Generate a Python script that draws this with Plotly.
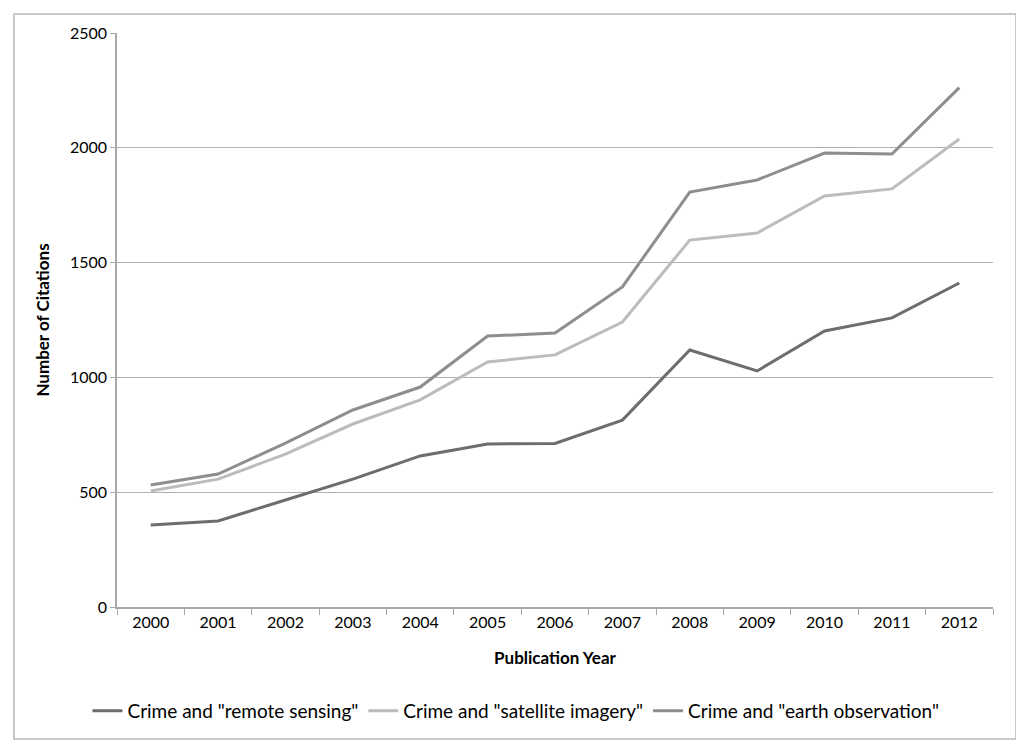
import plotly.graph_objects as go

years = ["2000", "2001", "2002", "2003", "2004", "2005", "2006",
         "2007", "2008", "2009", "2010", "2011", "2012"]
remote_sensing = [357, 375, 466, 557, 658, 710, 712, 814, 1119, 1028, 1202, 1259, 1411]
satellite_imagery = [505, 557, 666, 797, 902, 1067, 1098, 1241, 1598, 1629, 1790, 1821, 2038]
earth_observation = [531, 579, 714, 858, 958, 1180, 1193, 1394, 1807, 1860, 1977, 1973, 2262]

series_names = ['Crime and "remote sensing"', 'Crime and "satellite imagery"',
                'Crime and "earth observation"']
series_colors = ["#6d6d6d", "#bcbcbc", "#8e8e8e"]

fig = go.Figure()
for name, vals, col in zip(series_names,
                           [remote_sensing, satellite_imagery, earth_observation],
                           series_colors):
    fig.add_trace(go.Scatter(x=years, y=vals, mode="lines", name=name,
                             line=dict(color=col, width=3)))

font_family = "Lato, 'Open Sans', sans-serif"
OFF = 8  # page body margin
L, R, T, B = 117 - OFF, 993 - OFF, 33 - OFF, 607 - OFF
W, H = 1024 - OFF, 754 - OFF
pw, ph = R - L, B - T

def px(x):
    return (x - OFF - L) / pw

def py(y):
    return (B - (y - OFF)) / ph

fig.update_layout(
    width=W, height=H,
    margin=dict(l=L, r=W - R, t=T, b=H - B),
    paper_bgcolor="white", plot_bgcolor="white",
    font=dict(family=font_family, size=16, color="black"),
    showlegend=True,
    legend=dict(orientation="h", x=px(516), xanchor="center", y=py(711), yanchor="middle",
                font=dict(size=19, family=font_family), itemwidth=30,
                traceorder="normal"),
    xaxis=dict(
        type="category", showgrid=False, showline=True, linecolor="#a8a8a8", linewidth=1.5,
        ticks="outside", tickson="boundaries", ticklen=6, tickcolor="#a8a8a8",
        tickfont=dict(size=16), range=[-0.5, 12.5],
        title=dict(text="<b>Publication Year</b>", font=dict(size=17), standoff=22),
    ),
    yaxis=dict(
        range=[0, 2500], dtick=500, showgrid=True, gridcolor="#b0b0b0", gridwidth=1.3,
        showline=True, linecolor="#a8a8a8", linewidth=1.5, zeroline=False,
        ticks="outside", ticklen=5, tickcolor="#a8a8a8", tickfont=dict(size=16),
        title=dict(text="<b>Number of Citations</b>", font=dict(size=17), standoff=16),
    ),
    shapes=[dict(type="rect", xref="paper", yref="paper",
                 x0=px(14), x1=px(1016), y0=py(739), y1=py(14),
                 line=dict(color="#b8b8b8", width=1.5), layer="below")],
)

fig.write_html("out.html")
